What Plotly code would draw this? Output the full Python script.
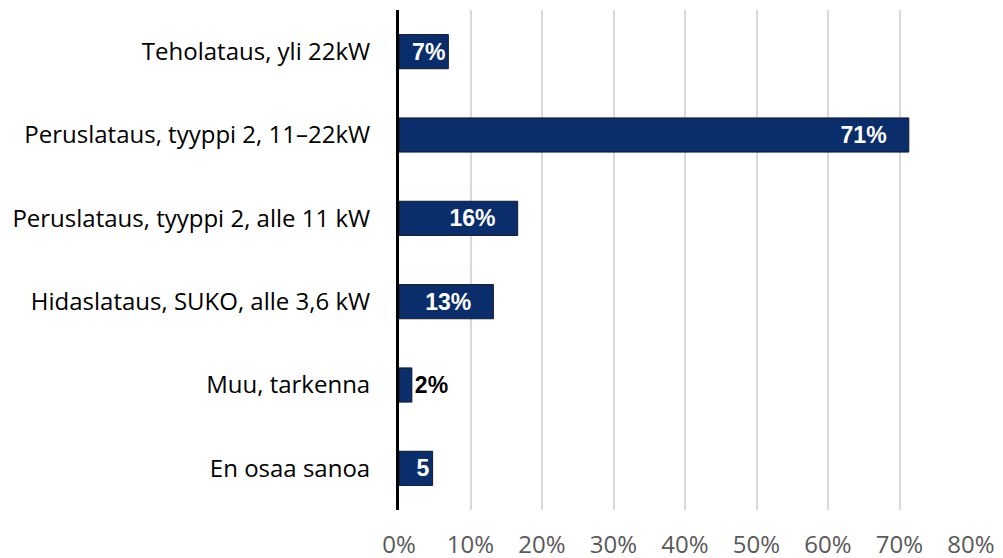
import plotly.graph_objects as go

categories = [
    "Teholataus, yli 22kW",
    "Peruslataus, tyyppi 2, 11\u201322kW",
    "Peruslataus, tyyppi 2, alle 11 kW",
    "Hidaslataus, SUKO, alle 3,6 kW",
    "Muu, tarkenna",
    "En osaa sanoa",
]
values = [6.9, 71.3, 16.6, 13.2, 1.8, 4.7]
value_labels = ["7%", "71%\u00a0\u00a0\u00a0", "16%\u00a0\u00a0\u00a0", "13%\u00a0\u00a0\u00a0", "2%", "5"]
label_positions = ["inside", "inside", "inside", "inside", "outside", "inside"]
x_ticks = [0, 10, 20, 30, 40, 50, 60, 70, 80]
x_tick_labels = [f"{t}%" for t in x_ticks]

fig = go.Figure(
    go.Bar(
        y=categories,
        x=values,
        orientation="h",
        width=0.41,
        marker=dict(color="#0a2d6b", line=dict(color="#101a2e", width=1)),
        text=value_labels,
        textposition=label_positions,
        insidetextanchor="end",
        constraintext="none",
        insidetextfont=dict(family="Liberation Sans", size=23, color="white", weight="bold"),
        outsidetextfont=dict(family="Liberation Sans", size=23, color="black", weight="bold"),
        cliponaxis=False,
    )
)

fig.update_layout(
    width=995,
    height=550,
    margin=dict(l=391, r=32, t=2, b=48, autoexpand=False),
    paper_bgcolor="white",
    plot_bgcolor="white",
    showlegend=False,
)
fig.update_xaxes(
    range=[0, 80],
    tickvals=x_ticks,
    ticktext=x_tick_labels,
    showgrid=True,
    gridcolor="#d9d9d9",
    gridwidth=2,
    zeroline=False,
    showline=False,
    ticks="",
    automargin=False,
    ticklabelstandoff=18,
    tickfont=dict(family="Open Sans", size=24, color="#595959"),
)
fig.update_yaxes(
    autorange="reversed",
    showline=True,
    linecolor="black",
    linewidth=3,
    showgrid=False,
    ticks="",
    automargin=False,
    ticklabelstandoff=21,
    tickfont=dict(family="Open Sans", size=24, color="black"),
)

fig.write_html("out.html")
